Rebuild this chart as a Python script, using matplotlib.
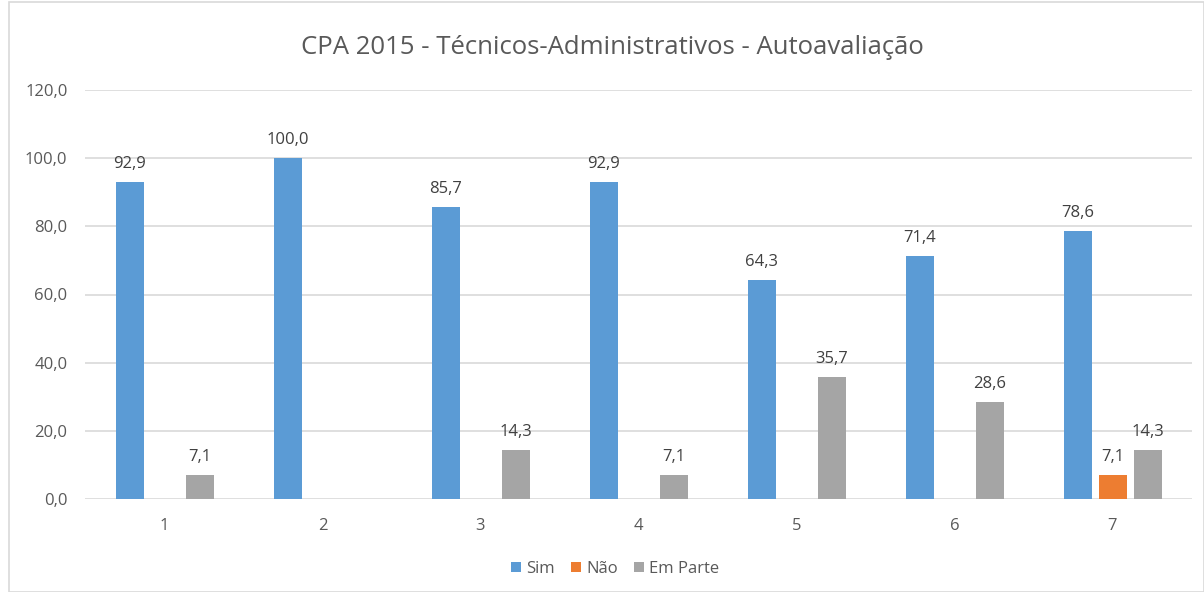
import matplotlib
matplotlib.use("Agg")
import matplotlib.pyplot as plt
import numpy as np
from matplotlib.patches import Rectangle

categories = ["1", "2", "3", "4", "5", "6", "7"]
sim = [92.9, 100.0, 85.7, 92.9, 64.3, 71.4, 78.6]
nao = [0, 0, 0, 0, 0, 0, 7.1]
em_parte = [7.1, 0, 14.3, 7.1, 35.7, 28.6, 14.3]
series_names = ["Sim", "Não", "Em Parte"]
colors = ["#5B9BD5", "#ED7D31", "#A5A5A5"]
title = "CPA 2015 - Técnicos-Administrativos - Autoavaliação"

plt.rcParams['font.family'] = ['Open Sans', 'DejaVu Sans']
txt = "#595959"

W, H = 1204, 592
fig = plt.figure(figsize=(W/100, H/100), dpi=100)
ax = fig.add_axes([85.5/W, (H-499)/H, (1191.5-85.5)/W, (499-90)/H])

x = np.arange(len(categories))
bw = 28/158
off = 35/158
for i, (vals, name, c) in enumerate(zip([sim, nao, em_parte], series_names, colors)):
    pos = x + (i-1)*off
    ax.bar(pos, vals, width=bw, color=c, label=name, zorder=3)
    for p, v in zip(pos, vals):
        if v > 0:
            ax.annotate(f"{v:.1f}".replace(".", ","), (p, v), xytext=(0, 18),
                        textcoords="offset pixels", ha="center", va="center",
                        fontsize=12, color="#404040")

ax.set_xlim(-0.5, len(categories)-0.5)
ax.set_ylim(0, 120)
ax.set_yticks(np.arange(0, 121, 20))
ax.set_yticklabels([f"{v:.1f}".replace(".", ",") for v in np.arange(0, 121, 20)])
ax.set_xticks(x)
ax.set_xticklabels(categories)
ax.tick_params(axis='both', length=0, colors=txt, labelsize=12)
ax.tick_params(axis='y', pad=13)
ax.tick_params(axis='x', pad=14)
ax.grid(axis='y', color="#D9D9D9", linewidth=1.2, zorder=0)
for s in ax.spines.values():
    s.set_visible(False)

fig.text(612/W, 1-48/H, title, ha="center", va="center", fontsize=18.5, color=txt)

leg = fig.legend(loc="center", bbox_to_anchor=(615/W, 1-569/H), ncol=3, frameon=False,
                 fontsize=12, handlelength=0.6, handleheight=0.6, handletextpad=0.3,
                 columnspacing=1.0, labelcolor=txt)

fig.patches.append(Rectangle((9/W, 0), (W-9)/W, (H-2)/H, transform=fig.transFigure,
                             fill=False, edgecolor="#D9D9D9", linewidth=1.2))

fig.savefig("out.png", dpi=100)
